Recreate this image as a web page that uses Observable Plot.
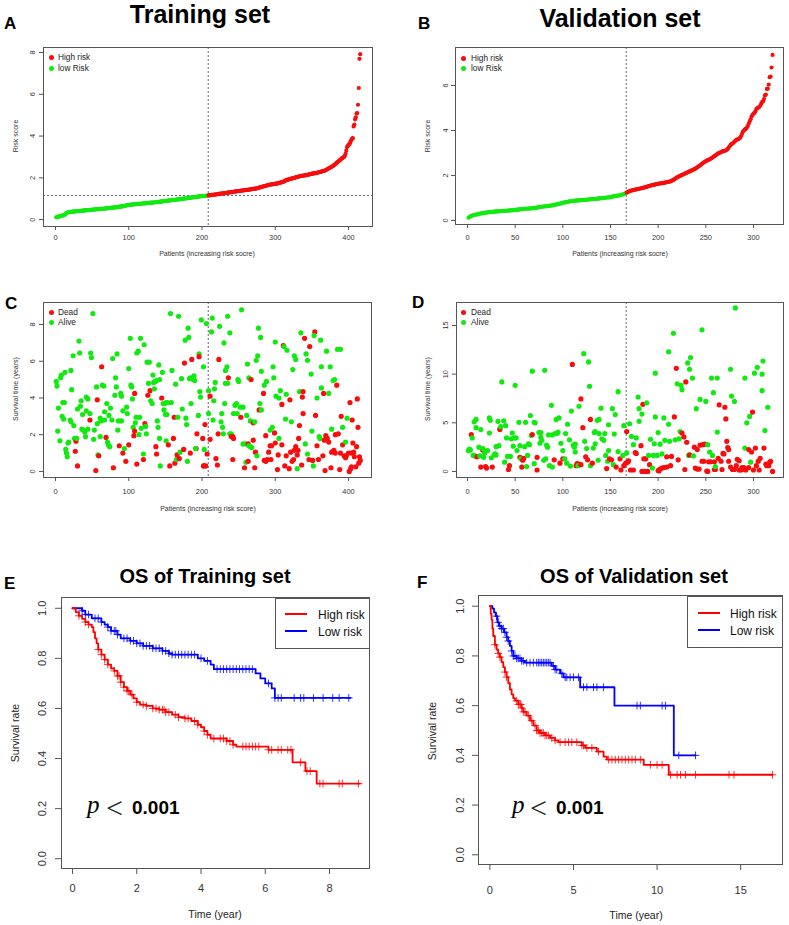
<!DOCTYPE html>
<html><head><meta charset="utf-8">
<script src="https://cdn.jsdelivr.net/npm/d3@7"></script>
<script src="https://cdn.jsdelivr.net/npm/@observablehq/plot@0.6"></script>
<style>
body{margin:0;background:#fff;}
#root{position:relative;width:789px;height:925px;overflow:hidden;background:#fff;}
.abs{position:absolute;white-space:nowrap;line-height:1;}
</style></head><body><div id="root"></div>
<script>
// ---------- DATA ----------
const trainRiskLow = [
0.11,0.12,0.13,0.14,0.15,0.16,0.17,0.18,0.19,0.20,0.21,0.22,0.24,0.28,0.32,0.34,0.35,0.35,0.36,0.36,
0.37,0.37,0.38,0.38,0.38,0.39,0.39,0.40,0.40,0.40,0.41,0.41,0.41,0.42,0.42,0.42,0.43,0.43,0.44,0.44,
0.44,0.45,0.45,0.45,0.46,0.46,0.46,0.47,0.47,0.47,0.48,0.48,0.48,0.49,0.49,0.49,0.50,0.50,0.50,0.51,
0.51,0.51,0.52,0.52,0.52,0.53,0.53,0.53,0.54,0.54,0.54,0.55,0.55,0.55,0.56,0.56,0.57,0.57,0.57,0.58,
0.58,0.59,0.59,0.60,0.60,0.61,0.61,0.62,0.62,0.63,0.63,0.64,0.64,0.65,0.66,0.67,0.68,0.69,0.70,0.70,
0.71,0.71,0.72,0.72,0.72,0.73,0.73,0.73,0.74,0.74,0.74,0.75,0.75,0.75,0.76,0.76,0.76,0.77,0.77,0.77,
0.78,0.78,0.78,0.79,0.79,0.79,0.80,0.80,0.80,0.81,0.81,0.81,0.82,0.82,0.82,0.83,0.83,0.83,0.84,0.84,
0.85,0.85,0.86,0.86,0.87,0.87,0.88,0.88,0.89,0.89,0.90,0.90,0.91,0.91,0.92,0.92,0.92,0.93,0.93,0.94,
0.94,0.95,0.95,0.95,0.96,0.96,0.97,0.97,0.97,0.98,0.98,0.99,0.99,1.00,1.00,1.01,1.01,1.02,1.02,1.03,
1.03,1.04,1.04,1.05,1.05,1.06,1.06,1.07,1.07,1.08,1.08,1.09,1.09,1.10,1.10,1.11,1.11,1.12,1.12,1.12,
1.13,1.13,1.13,1.14,1.14,1.14,1.15,1.15];
const trainRiskHigh = [
1.16,1.16,1.17,1.17,1.18,1.18,1.19,1.19,1.20,1.20,1.21,1.21,1.22,1.22,1.23,1.23,1.24,1.24,1.25,1.25,
1.26,1.26,1.27,1.27,1.28,1.28,1.29,1.29,1.30,1.30,1.31,1.31,1.32,1.32,1.33,1.34,1.34,1.35,1.35,1.36,
1.36,1.37,1.37,1.38,1.38,1.39,1.39,1.40,1.40,1.41,1.41,1.42,1.42,1.43,1.43,1.44,1.44,1.45,1.45,1.46,
1.46,1.47,1.47,1.48,1.48,1.49,1.50,1.51,1.52,1.53,1.54,1.55,1.56,1.57,1.58,1.59,1.60,1.61,1.62,1.63,
1.64,1.65,1.66,1.67,1.68,1.68,1.69,1.69,1.70,1.70,1.71,1.71,1.72,1.72,1.73,1.74,1.75,1.76,1.77,1.78,
1.79,1.80,1.81,1.83,1.85,1.87,1.89,1.90,1.91,1.92,1.93,1.94,1.95,1.96,1.97,1.98,1.99,2.00,2.01,2.02,
2.03,2.04,2.05,2.06,2.07,2.08,2.09,2.10,2.10,2.11,2.11,2.12,2.12,2.13,2.13,2.14,2.15,2.16,2.17,2.18,
2.19,2.20,2.20,2.21,2.21,2.22,2.22,2.23,2.24,2.25,2.26,2.27,2.28,2.29,2.30,2.31,2.32,2.33,2.34,2.35,
2.37,2.39,2.41,2.43,2.45,2.47,2.49,2.51,2.53,2.55,2.57,2.60,2.63,2.66,2.69,2.72,2.75,2.78,2.81,2.84,
2.87,2.90,2.93,2.96,2.98,3.00,3.05,3.15,3.30,3.47,3.52,3.58,
3.60,3.65,3.75,3.82,3.88,3.90,4.46,4.55,4.80,4.90,5.08,5.10,5.50,6.30,7.70,7.92];
const trainRiskCutoff = 1.155;

const validRiskLow = [
0.12,0.15,0.18,0.21,0.22,0.23,0.24,0.25,0.26,0.27,0.28,0.29,0.30,0.31,0.32,0.33,0.34,0.34,0.35,0.35,
0.36,0.36,0.37,0.37,0.37,0.38,0.38,0.39,0.39,0.40,0.40,0.40,0.41,0.41,0.41,0.42,0.42,0.42,0.43,0.43,
0.43,0.44,0.44,0.44,0.45,0.45,0.45,0.46,0.46,0.47,0.47,0.48,0.48,0.49,0.49,0.50,0.50,0.51,0.51,0.52,
0.52,0.52,0.53,0.53,0.53,0.54,0.54,0.54,0.55,0.55,0.56,0.56,0.57,0.58,0.59,0.60,0.61,0.61,0.62,0.62,
0.63,0.63,0.64,0.64,0.65,0.65,0.66,0.66,0.67,0.68,0.69,0.70,0.71,0.72,0.73,0.74,0.75,0.76,0.77,0.78,
0.79,0.80,0.81,0.82,0.83,0.84,0.85,0.85,0.86,0.86,0.87,0.87,0.88,0.88,0.89,0.89,0.89,0.90,0.90,0.90,
0.91,0.91,0.91,0.92,0.92,0.93,0.93,0.94,0.94,0.95,0.95,0.95,0.96,0.96,0.96,0.97,0.97,0.98,0.98,0.99,
0.99,1.00,1.00,1.01,1.01,1.02,1.02,1.03,1.03,1.04,1.05,1.06,1.07,1.08,1.08,1.09,1.10,1.10,1.11,1.12,
1.13,1.14,1.16,1.17,1.19,1.21];
const validRiskHigh = [
1.24,1.26,1.28,1.30,1.32,1.33,1.34,1.35,1.36,1.37,1.38,1.39,1.40,1.41,1.42,1.43,1.44,1.45,1.46,1.47,
1.48,1.49,1.51,1.53,1.54,1.55,1.56,1.57,1.58,1.59,1.60,1.61,1.62,1.63,1.64,1.65,1.65,1.66,1.66,1.67,
1.68,1.69,1.70,1.71,1.72,1.73,1.74,1.76,1.78,1.80,1.83,1.86,1.89,1.92,1.94,1.96,1.98,2.00,2.02,2.04,
2.06,2.08,2.10,2.12,2.14,2.16,2.18,2.20,2.22,2.24,2.26,2.28,2.30,2.33,2.36,2.39,2.42,2.45,2.48,2.52,
2.55,2.58,2.61,2.64,2.66,2.68,2.70,2.72,2.74,2.77,2.80,2.83,2.86,2.89,2.92,2.95,2.98,3.00,3.02,3.04,
3.06,3.08,3.09,3.10,3.11,3.14,3.18,3.24,3.30,3.36,3.40,3.42,3.46,3.50,3.54,3.58,3.60,3.62,3.64,3.68,
3.75,3.85,3.95,4.00,4.05,4.07,4.12,4.20,4.30,4.40,4.50,4.62,4.70,4.74,4.78,4.85,4.95,5.00,5.02,5.04,
5.10,5.18,5.26,5.30,5.40,5.56,5.60,5.85,5.86,6.04,6.37,6.40,6.80,7.36];

// [patient index, survival time (years), dead 1 / alive 0]
const trainSurvival = [
[1,4.9,0],[2,4.65,0],[3,2.2,0],[4,3.45,0],[6,1.67,0],[7,5.1,0],[8,5.25,0],[9,3.0,0],[10,3.75,0],[11,2.85,0],[12,3.75,0],[13,5.4,0],[14,1.2,0],[15,1.0,0],[16,0.8,0],[17,1.55,0],[18,1.6,0],[20,2.8,0],[21,2.7,0],[21,5.5,0],[22,4.45,0],[24,6.3,0],[25,2.5,0],[26,1.8,0],[27,1.1,1],[28,1.65,1],[29,1.8,0],[30,0.3,1],[30,3.4,0],[32,7.1,0],[33,6.45,0],[34,3.55,0],[35,3.85,0],[36,2.3,0],[37,3.1,0],[38,2.25,0],[40,2.15,0],[41,1.9,0],[42,4.05,0],[42,3.3,0],[44,3.95,0],[44,2.3,0],[47,2.8,1],[47,3.15,0],[48,6.45,0],[49,6.2,0],[51,8.6,0],[52,1.75,0],[53,2.25,0],[55,0.05,1],[56,4.6,0],[57,2.6,0],[57,3.9,1],[58,0.9,0],[59,0.85,1],[61,2.9,0],[61,1.9,0],[62,2.75,0],[63,5.7,1],[64,4.7,0],[66,4.65,0],[67,3.25,0],[67,2.8,0],[69,1.85,1],[70,3.7,0],[71,1.6,0],[72,1.45,0],[74,1.35,0],[73,3.05,0],[75,3.45,0],[77,2.8,0],[79,0.2,1],[78,6.15,0],[81,4.15,0],[82,5.1,0],[83,4.6,0],[84,6.4,0],[85,2.25,0],[86,2.75,0],[87,1.4,1],[89,4.25,0],[90,4.1,0],[90,2.75,0],[92,3.3,0],[92,1.0,1],[94,1.25,0],[96,0.55,1],[97,3.5,0],[98,3.15,0],[100,5.6,0],[100,1.45,1],[102,7.25,0],[103,4.7,0],[104,4.6,0],[105,3.95,0],[106,2.4,0],[107,1.95,1],[108,2.2,1],[108,4.25,1],[109,2.65,0],[110,2.95,0],[111,0.4,1],[111,6.45,0],[113,6.55,0],[114,2.0,0],[115,2.95,0],[116,7.25,0],[117,2.35,0],[120,0.65,1],[120,0.95,0],[121,6.9,0],[122,2.6,1],[123,2.45,0],[124,2.05,0],[125,5.95,0],[128,5.95,0],[126,4.15,1],[127,4.8,0],[129,4.4,1],[130,3.85,0],[132,3.7,0],[133,5.25,0],[134,4.85,0],[136,4.9,0],[138,4.95,0],[135,4.5,0],[137,1.35,1],[138,0.95,1],[139,2.75,0],[140,2.4,0],[141,5.8,0],[142,5.0,0],[142,1.8,0],[143,0.3,0],[145,4.0,1],[146,5.4,0],[147,3.7,0],[149,3.7,0],[151,3.75,0],[153,3.75,0],[148,3.35,0],[150,3.1,0],[152,3.1,0],[151,1.67,0],[154,1.45,1],[156,0.3,1],[157,8.6,0],[158,3.75,0],[159,5.5,0],[161,1.8,1],[162,2.95,1],[163,0.45,1],[164,4.75,0],[165,0.65,0],[166,0.9,1],[167,2.95,0],[168,8.45,0],[169,0.7,1],[170,1.05,0],[172,5.05,0],[173,3.4,0],[175,1.2,1],[176,5.9,1],[177,7.15,0],[178,2.9,0],[179,2.55,0],[180,0.55,0],[181,7.8,0],[182,7.3,0],[183,5.05,0],[184,5.1,0],[184,1.0,1],[185,3.7,0],[186,6.1,1],[188,5.0,0],[189,5.2,0],[190,4.95,0],[192,1.25,1],[191,1.25,0],[193,2.05,1],[195,3.05,0],[196,6.4,0],[196,6.25,1],[197,4.35,0],[198,4.05,0],[199,8.25,0],[201,1.8,1],[202,0.3,1],[203,0.3,1],[205,0.3,1],[202,5.7,0],[203,1.2,0],[204,2.55,1],[206,8.05,0],[207,0.95,1],
[209,3.15,0],[209,4.4,0],[211,4.1,1],[211,1.75,1],[213,7.6,0],[214,8.35,0],[215,2.8,0],[216,3.85,0],[217,4.5,0],[218,4.85,0],[219,0.7,1],[221,0.35,1],[222,2.05,1],[223,6.1,1],[224,7.9,0],[226,2.7,0],[227,3.15,0],[228,2.4,0],[229,2.05,0],[230,7.0,0],[231,3.7,0],[232,5.5,0],[234,5.7,0],[232,4.8,0],[235,4.8,0],[236,5.1,1],[235,8.45,0],[238,7.55,0],[238,2.05,0],[240,2.05,0],[240,1.9,1],[242,1.9,1],[243,1.8,1],[242,0.65,1],[243,3.15,0],[245,3.6,0],[247,3.7,0],[248,3.15,0],[249,5.0,0],[250,4.9,0],[253,2.95,1],[252,3.5,0],[254,8.8,0],[256,1.5,0],[259,1.5,0],[256,3.5,0],[258,0.2,1],[260,0.5,0],[261,3.05,0],[262,5.85,0],[263,1.5,1],[263,0.55,1],[264,1.4,0],[266,1.35,0],[268,1.3,0],[264,5.1,0],[267,5.0,1],[266,2.75,0],[270,1.7,1],[270,2.65,1],[272,2.7,0],[272,0.2,1],[273,1.05,1],[274,6.05,0],[275,0.85,0],[276,6.3,0],[277,7.8,0],[278,3.35,1],[279,3.7,0],[281,3.35,0],[280,7.3,0],[281,5.45,0],[284,4.25,1],[285,4.7,0],[285,0.6,1],[287,0.55,1],[289,0.65,1],[287,1.95,1],[288,4.9,0],[291,1.05,1],[293,1.4,1],[295,1.4,1],[293,2.25,0],[294,0.65,1],[296,2.4,0],[297,5.7,0],[298,5.1,0],[299,2.1,1],[300,1.55,1],[300,7.05,0],[301,4.1,0],[303,0.1,1],[304,0.9,1],[305,4.0,0],[307,4.4,0],[305,1.8,0],[309,3.65,1],[309,1.45,1],[311,6.85,1],[312,6.8,0],[313,0.3,1],[314,2.85,0],[315,4.2,0],[316,6.6,0],[315,0.85,1],[319,0.15,1],[320,3.9,1],[321,1.05,1],[322,2.7,0],[323,0.55,1],[325,0.65,1],[326,1.15,1],[324,5.55,0],[326,6.3,0],[328,6.1,0],[328,1.35,1],[330,0.9,1],[331,1.15,1],[330,0.15,0],[332,1.8,1],[333,2.5,1],[333,4.35,0],[335,7.55,0],[336,0.35,1],[337,4.05,1],[338,3.15,1],[338,4.35,1],[340,7.25,1],[341,1.5,0],[342,6.4,0],[344,0.95,0],[344,6.05,0],[346,0.65,1],[347,6.8,1],[349,5.3,0],[350,2.2,0],[351,0.6,1],[352,0.3,0],[354,7.6,1],[353,7.4,0],[355,3.05,1],[357,1.4,1],[357,4.0,0],[359,0.65,1],[360,1.9,0],[361,1.8,0],[362,7.15,0],[363,4.55,0],[363,5.7,0],[365,0.85,1],[366,4.25,1],[368,0.05,1],[367,1.7,1],[369,1.95,1],[370,6.55,0],[371,1.8,1],[373,1.6,1],[373,4.25,0],[375,5.7,0],[376,0.2,1],[377,2.3,0],[377,1.05,1],[379,4.95,0],[381,5.0,0],[380,1.15,1],[382,1.0,1],[382,2.0,1],[385,6.65,0],[384,4.7,1],[386,2.05,1],[389,6.65,0],[389,1.0,1],[388,0.1,1],[390,3.0,1],[392,2.4,0],[392,1.45,1],[394,0.85,1],[396,0.75,1],[397,0.85,1],[396,1.6,0],[398,2.9,0],[400,1.0,1],[401,0.0,1],[402,3.75,1],[403,0.15,1],[404,0.25,1],[404,1.0,1],[405,2.8,1],[406,1.55,1],[407,1.05,1],[408,0.8,1],[410,0.25,1],[411,1.35,1],[412,3.95,1],[413,2.4,1],[414,0.45,1],[415,0.8,1],[416,0.6,1]];

const validSurvival = [
[1,2.15,0],[2,2.3,0],[3,2.2,0],[4,3.8,1],[5,3.45,0],[6,1.65,0],[7,5.1,0],[8,1.6,0],[9,4.5,0],[9,5.35,0],[9,1.55,0],[10,1.5,1],[12,2.5,0],[13,1.6,0],[14,4.3,0],[14,0.45,1],[16,2.2,1],[16,2.35,0],[18,1.9,0],[19,2.1,0],[17,1.45,0],[19,0.5,1],[20,0.35,1],[21,2.15,0],[23,3.95,0],[23,5.5,0],[24,5.25,0],[25,1.4,0],[26,0.45,1],[28,1.7,0],[29,1.8,0],[30,1.7,0],[30,2.55,0],[32,5.15,0],[33,2.65,0],[34,4.4,0],[34,4.3,1],[35,4.6,0],[36,9.2,0],[38,5.2,0],[39,0.95,0],[40,4.7,0],[41,3.45,0],[42,1.55,0],[43,0.2,1],[44,0.6,1],[45,1.55,0],[47,3.95,0],[46,3.35,0],[48,2.6,0],[49,3.45,0],[51,3.45,0],[50,8.85,0],[52,2.15,0],[54,5.05,0],[55,1.45,1],[55,2.65,0],[56,1.3,0],[57,0.45,1],[58,1.15,1],[59,1.35,1],[60,2.55,0],[61,5.05,0],[62,0.5,0],[63,1.65,0],[64,2.85,0],[65,2.75,0],[66,5.75,0],[67,3.7,0],[68,3.8,1],[68,10.3,0],[70,5.05,0],[71,5.0,0],[70,0.8,0],[73,0.15,1],[73,1.45,1],[75,4.0,0],[77,4.0,0],[76,2.9,0],[77,3.5,0],[78,3.2,0],[80,1.15,0],[81,10.4,0],[82,1.3,0],[83,2.7,0],[84,2.5,0],[85,3.75,0],[86,0.6,0],[88,6.8,0],[89,0.45,0],[89,3.75,0],[91,1.2,1],[92,3.9,0],[94,3.9,0],[93,5.35,0],[95,4.05,0],[96,5.5,0],[97,0.85,1],[98,2.9,0],[100,1.3,1],[100,2.15,0],[102,1.3,0],[103,3.9,0],[104,0.85,0],[105,4.85,0],[107,3.25,0],[108,0.55,0],[109,6.2,0],[110,11.0,1],[111,2.7,0],[113,2.8,0],[112,2.5,0],[113,2.0,0],[114,0.6,1],[115,0.8,1],[117,0.75,1],[116,0.6,0],[117,6.7,0],[119,7.45,1],[119,0.7,1],[121,4.5,1],[122,12.1,0],[123,3.1,0],[124,1.5,1],[125,2.35,0],[126,1.2,1],[127,11.25,0],[128,8.75,0],[129,0.6,0],[129,5.35,1],[131,0.85,1],[132,2.4,0],[133,4.0,0],[134,4.1,0],[134,2.85,0],[136,5.25,0],[138,5.35,0],[137,1.15,0],[138,3.9,0],[140,6.5,0],[141,3.35,0],[143,3.2,0],[144,3.9,0],[145,1.65,0],[146,0.3,1],[147,1.05,0],[148,4.8,0],[148,2.15,0],[149,1.3,1],[151,1.2,1],[152,6.45,0],[153,0.7,0],[154,3.85,0],[155,5.85,0],[156,0.45,1],[158,8.2,0],[158,2.05,0],[160,1.3,1],[161,0.15,1],[163,1.65,0],[164,4.7,0],[164,0.6,1],[166,0.85,1],
[167,1.9,0],[167,4.1,1],[168,0.95,1],[169,1.1,1],[170,4.9,0],[171,0.15,1],[172,3.6,0],[174,2.75,0],[174,0.15,1],[176,1.95,1],[177,1.85,1],[177,3.45,0],[179,7.65,0],[180,5.15,0],[180,6.45,0],[182,2.65,1],[183,5.9,0],[184,6.9,1],[185,1.3,1],[187,1.3,1],[188,7.05,0],[183,0.0,1],[186,0.0,1],[189,0.0,1],[190,1.65,0],[191,0.7,1],[192,3.3,0],[194,0.35,0],[195,1.65,0],[196,2.85,0],[197,5.6,0],[197,10.1,0],[199,1.65,0],[200,0.1,1],[201,0.05,1],[202,0.25,1],[200,4.0,0],[202,2.8,0],[204,1.8,0],[204,0.35,1],[206,0.4,1],[206,5.5,0],[207,3.2,0],[209,0.45,1],[209,1.5,1],[211,12.3,0],[211,4.85,0],[212,3.1,0],[213,0.6,1],[214,1.55,1],[216,14.2,0],[217,5.6,1],[218,3.25,0],[219,10.6,1],[220,9.0,0],[221,1.2,1],[222,3.35,0],[223,4.1,0],[224,8.85,0],[225,8.4,0],[225,3.95,1],[227,3.55,1],[228,0.2,1],[229,9.2,1],[230,3.0,1],[231,11.15,0],[232,1.65,0],[233,1.7,1],[233,10.5,0],[234,11.7,0],[236,9.6,0],[237,1.6,0],[238,2.5,1],[239,0.35,1],[240,6.45,0],[241,0.25,1],[243,0.25,1],[241,2.25,1],[244,7.4,0],[244,2.7,1],[246,14.55,0],[246,1.05,1],[248,1.05,1],[247,2.75,1],[249,2.8,1],[250,7.2,0],[251,0.05,1],[252,0.0,1],[252,2.75,0],[253,1.0,1],[255,1.0,1],[254,2.0,0],[256,9.6,0],[257,1.65,0],[258,8.1,0],[259,0.2,1],[260,0.2,1],[259,1.0,1],[260,0.5,0],[262,4.05,0],[262,9.6,0],[263,1.35,1],[264,6.85,1],[266,1.05,1],[267,0.2,1],[268,1.85,1],[269,1.8,1],[270,6.6,1],[271,5.4,1],[272,3.1,1],[273,2.45,1],[274,2.25,1],[274,1.05,1],[276,0.45,1],[276,10.5,0],[277,7.75,0],[278,0.2,1],[280,0.2,1],[280,7.2,0],[281,16.8,0],[282,0.6,1],[283,1.25,1],[285,1.1,1],[285,0.15,1],[287,0.15,1],[288,0.4,1],[289,0.25,1],[290,0.4,1],[291,9.6,0],[291,2.4,0],[292,0.15,1],[293,5.0,0],[295,0.4,1],[296,5.65,0],[295,2.25,1],[298,2.0,1],[297,0.95,0],[299,6.1,1],[300,0.15,1],[301,10.1,0],[302,2.4,1],[303,0.6,1],[304,10.7,0],[305,1.05,1],[306,0.15,1],[307,1.35,1],[309,8.3,0],[309,10.0,0],[310,11.35,0],[311,2.4,1],[312,4.2,0],[313,0.75,1],[314,0.6,1],[315,6.6,0],[316,0.6,1],[317,0.95,1],[318,1.05,1],[320,0.0,1]];

// Kaplan–Meier steps: [time (year), survival rate after that time]
const kmTrainHigh = [[0,1],[0.1,0.985],[0.2,0.97],[0.3,0.958],[0.4,0.945],[0.5,0.935],[0.6,0.925],[0.65,0.905],[0.7,0.88],[0.75,0.86],[0.8,0.835],[0.9,0.815],[1.0,0.795],[1.1,0.775],[1.2,0.76],[1.3,0.75],[1.4,0.73],[1.5,0.705],[1.6,0.685],[1.7,0.67],[1.8,0.655],[1.9,0.64],[2.0,0.625],[2.1,0.615],[2.3,0.61],[2.5,0.6],[2.7,0.595],[2.9,0.585],[3.1,0.575],[3.3,0.565],[3.5,0.56],[3.7,0.55],[3.9,0.535],[4.0,0.525],[4.1,0.51],[4.2,0.495],[4.3,0.48],[4.8,0.47],[5.0,0.455],[5.1,0.448],[6.1,0.435],[6.85,0.385],[7.25,0.35],[7.6,0.3],[8.95,0.3]];
const kmTrainLow = [[0,1],[0.3,0.99],[0.4,0.975],[0.6,0.96],[0.9,0.945],[1.0,0.935],[1.1,0.925],[1.2,0.91],[1.4,0.895],[1.5,0.88],[1.8,0.87],[2.0,0.86],[2.2,0.85],[2.5,0.84],[2.8,0.83],[3.0,0.82],[3.1,0.815],[3.9,0.80],[4.1,0.79],[4.3,0.775],[4.4,0.757],[5.7,0.74],[5.85,0.72],[6.0,0.70],[6.2,0.68],[6.3,0.642],[8.65,0.642]];
const censorTrainHigh = [0.2,0.4,0.5,0.8,0.9,1.0,1.1,1.3,1.4,1.45,1.5,1.6,1.7,1.75,1.85,2.0,2.2,2.3,2.5,2.6,2.7,2.8,2.85,2.9,3.0,3.2,3.3,3.5,3.6,3.8,3.9,4.1,4.2,4.4,4.6,4.7,4.8,4.9,5.0,5.3,5.4,5.5,5.6,5.7,5.8,6.1,6.2,6.4,6.5,6.7,6.8,7.1,7.3,7.4,7.7,7.8,8.3,8.4,8.9];
const censorTrainLow = [0.3,0.4,0.5,0.7,0.8,0.9,1.1,1.2,1.3,1.35,1.4,1.6,1.7,1.8,1.9,2.0,2.1,2.2,2.3,2.4,2.5,2.6,2.7,2.8,2.9,3.0,3.1,3.2,3.3,3.4,3.5,3.6,3.7,3.8,4.0,4.2,4.5,4.6,4.7,4.8,4.9,5.0,5.1,5.2,5.3,5.4,5.5,5.6,6.1,6.3,6.4,6.5,6.9,7.1,7.2,7.5,7.8,8.1,8.3,8.6];
const kmValidHigh = [[0,1],[0.05,0.97],[0.1,0.945],[0.15,0.91],[0.2,0.88],[0.3,0.845],[0.4,0.825],[0.5,0.81],[0.6,0.795],[0.7,0.775],[0.8,0.755],[0.9,0.735],[1.0,0.715],[1.1,0.69],[1.2,0.665],[1.3,0.645],[1.4,0.63],[1.5,0.62],[1.7,0.605],[1.9,0.59],[2.0,0.575],[2.2,0.56],[2.4,0.54],[2.6,0.52],[2.8,0.50],[3.0,0.49],[3.3,0.48],[3.6,0.47],[3.9,0.46],[4.1,0.453],[5.5,0.44],[5.7,0.43],[6.4,0.415],[6.8,0.395],[7.0,0.383],[9.2,0.362],[10.7,0.322],[16.9,0.322]];
const kmValidLow = [[0,1],[0.15,0.99],[0.25,0.975],[0.35,0.96],[0.45,0.935],[0.55,0.92],[0.7,0.91],[0.85,0.895],[1.0,0.875],[1.1,0.86],[1.2,0.84],[1.3,0.82],[1.4,0.80],[1.6,0.79],[1.9,0.78],[2.1,0.773],[3.7,0.76],[3.9,0.745],[4.2,0.73],[4.4,0.714],[5.4,0.674],[7.45,0.60],[11.0,0.40],[12.3,0.40]];
const censorValidHigh = [0.3,0.5,0.6,0.9,1.0,1.6,1.7,1.8,1.85,1.9,2.0,2.1,2.3,2.5,2.7,2.8,2.9,3.0,3.1,3.2,3.3,3.4,3.5,3.7,3.9,4.2,4.5,4.7,4.9,5.2,5.5,5.6,5.8,6.1,6.5,7.1,7.3,7.5,7.7,7.9,8.1,8.3,8.5,8.7,9.0,9.6,10.0,10.3,10.8,11.2,11.4,11.7,12.3,14.3,14.6,16.9];
const censorValidLow = [0.4,0.5,0.6,0.7,0.8,0.9,1.0,1.1,1.3,1.4,1.5,1.6,1.7,1.8,1.9,2.0,2.2,2.4,2.6,2.8,2.9,3.0,3.1,3.2,3.3,3.4,3.5,3.6,3.8,3.9,4.0,4.3,4.5,4.6,4.8,5.0,5.3,5.6,5.8,6.2,6.4,6.8,8.8,9.0,10.3,10.5,11.3,12.3];

// tick labels
const trainPatientTicks = [0,100,200,300,400];
const validPatientTicks = [0,50,100,150,200,250,300];
const trainRiskTicks = [0,2,4,6,8];
const validRiskTicks = [0,2,4,6];
const trainTimeTicks = [0,2,4,6,8];
const validTimeTicks = [0,5,10,15];
const kmTrainTimeTicks = [0,2,4,6,8];
const kmValidTimeTicks = [0,5,10,15];
const kmRateTicks = [0,0.2,0.4,0.6,0.8,1.0];

// ---------- DRAWING ----------
const RED = "#f70d0d", GREEN = "#11ea11", KRED = "#ff0000", KBLUE = "#0000ff";
const SANS = "'Liberation Sans', Arial, Helvetica, sans-serif";
const SERIF = "'Liberation Serif', 'Times New Roman', serif";
const root = document.getElementById("root");

function survAt(steps, t) {
  let s = steps[0][1];
  for (const [tt, ss] of steps) { if (tt <= t) s = ss; else break; }
  return s;
}

function panel(o) {
  const chart = Plot.plot({
    width: o.width, height: o.height,
    marginLeft: o.mL, marginRight: o.mR, marginTop: o.mT, marginBottom: o.mB,
    x: {domain: o.xDomain}, y: {domain: o.yDomain},
    color: {type: "identity"},
    style: {fontFamily: SANS, fontSize: o.font + "px", color: "#333", background: "transparent", overflow: "visible"},
    marks: [
      ...o.marks,
      Plot.frame({stroke: "#555", strokeWidth: 1}),
      Plot.axisX(o.xTicks, {tickSize: o.tsx, tickPadding: o.tpx, stroke: "#555", label: null}),
      Plot.axisY(o.yTicks, {tickSize: o.tsy, tickPadding: o.tpy, tickRotate: -90, tickFormat: o.yFormat, stroke: "#555", label: null})
    ]
  });
  chart.style.position = "absolute";
  chart.style.left = o.left + "px";
  chart.style.top = o.top + "px";
  chart.style.maxWidth = "none";
  root.appendChild(chart);
}

function txt(s, x, y, op = {}) {
  const {size = 10, weight = "normal", anchor = "start", rotate = 0, color = "#000", family = SANS, style = "normal"} = op;
  const d = document.createElement("div");
  d.className = "abs";
  d.textContent = s;
  Object.assign(d.style, {fontSize: size + "px", fontWeight: weight, color, fontFamily: family, fontStyle: style});
  d.style.left = x + "px";
  if (rotate) {
    d.style.top = y + "px";
    d.style.transform = `translate(-50%,-50%) rotate(${rotate}deg)`;
  } else {
    d.style.top = (y - 0.85 * size) + "px";
    if (anchor === "middle") d.style.transform = "translateX(-50%)";
  }
  root.appendChild(d);
}
function dotKey(x, y, r, color) {
  const d = document.createElement("div");
  Object.assign(d.style, {position: "absolute", left: (x - r) + "px", top: (y - r) + "px", width: 2 * r + "px", height: 2 * r + "px", borderRadius: "50%", background: color});
  root.appendChild(d);
}
function lineKey(x1, x2, y, color) {
  const d = document.createElement("div");
  Object.assign(d.style, {position: "absolute", left: x1 + "px", top: (y - 1) + "px", width: (x2 - x1) + "px", height: "2px", background: color});
  root.appendChild(d);
}
function box(x1, y1, x2, y2) {
  const d = document.createElement("div");
  Object.assign(d.style, {position: "absolute", left: x1 + "px", top: y1 + "px", width: (x2 - x1 - 1) + "px", height: (y2 - y1 - 1) + "px", border: "1px solid #555", background: "#fff"});
  root.appendChild(d);
}

const idxLow = (d, i) => i + 1;
const dash = {stroke: "#666", strokeDasharray: "2,2", strokeWidth: 1};

// Panel A
panel({left: 0, top: 40, width: 395, height: 230, mL: 43, mR: 23, mT: 7, mB: 44,
  xDomain: [-16.4, 432.8], yDomain: [-0.33, 8.24], xTicks: trainPatientTicks, yTicks: trainRiskTicks,
  tsx: 4, tpx: 4, tsy: 4, tpy: 5, font: 7.4,
  marks: [
    Plot.ruleX([trainRiskLow.length + 0.5], dash),
    Plot.ruleY([trainRiskCutoff], dash),
    Plot.dot(trainRiskLow, {x: idxLow, y: d => d, r: 2.1, fill: GREEN}),
    Plot.dot(trainRiskHigh, {x: (d, i) => trainRiskLow.length + i + 1, y: d => d, r: 2.1, fill: RED})
  ]});
// Panel B
panel({left: 395, top: 40, width: 394, height: 230, mL: 60, mR: 6, mT: 7, mB: 46,
  xDomain: [-12.6, 331.5], yDomain: [-0.18, 7.69], xTicks: validPatientTicks, yTicks: validRiskTicks,
  tsx: 4, tpx: 6, tsy: 4, tpy: 4, font: 7.4,
  marks: [
    Plot.ruleX([validRiskLow.length + 0.5], dash),
    Plot.dot(validRiskLow, {x: idxLow, y: d => d, r: 2.1, fill: GREEN}),
    Plot.dot(validRiskHigh, {x: (d, i) => validRiskLow.length + i + 1, y: d => d, r: 2.1, fill: RED})
  ]});
// Panel C
panel({left: 0, top: 290, width: 395, height: 240, mL: 43, mR: 24, mT: 12, mB: 53,
  xDomain: [-16.4, 431.4], yDomain: [-0.33, 9.2], xTicks: trainPatientTicks, yTicks: trainTimeTicks,
  tsx: 4, tpx: 7, tsy: 4, tpy: 5, font: 7.4,
  marks: [
    Plot.ruleX([trainRiskLow.length + 0.5], dash),
    Plot.dot(trainSurvival, {x: d => d[0], y: d => d[1], r: 2.6, fill: d => d[2] ? RED : GREEN})
  ]});
// Panel D
panel({left: 395, top: 290, width: 394, height: 240, mL: 61, mR: 6, mT: 12, mB: 53,
  xDomain: [-11.5, 331.5], yDomain: [-0.62, 17.36], xTicks: validPatientTicks, yTicks: validTimeTicks,
  tsx: 4, tpx: 7, tsy: 4, tpy: 5, font: 7.4,
  marks: [
    Plot.ruleX([validRiskLow.length + 0.5], dash),
    Plot.dot(validSurvival, {x: d => d[0], y: d => d[1], r: 2.6, fill: d => d[2] ? RED : GREEN})
  ]});
// Panel E
const f1 = d3.format(".1f");
panel({left: 0, top: 590, width: 395, height: 335, mL: 61, mR: 26, mT: 7, mB: 57,
  xDomain: [-0.342, 9.245], yDomain: [-0.039, 1.043], xTicks: kmTrainTimeTicks, yTicks: kmRateTicks, yFormat: f1,
  tsx: 6, tpx: 10, tsy: 6, tpy: 10, font: 11,
  marks: [
    Plot.line(kmTrainLow, {x: d => d[0], y: d => d[1], curve: "step-after", stroke: KBLUE, strokeWidth: 1.8}),
    Plot.line(kmTrainHigh, {x: d => d[0], y: d => d[1], curve: "step-after", stroke: KRED, strokeWidth: 1.8}),
    Plot.dot(censorTrainLow, {x: d => d, y: d => survAt(kmTrainLow, d), symbol: "plus", r: 2.6, stroke: KBLUE, strokeWidth: 1, strokeOpacity: 0.8}),
    Plot.dot(censorTrainHigh, {x: d => d, y: d => survAt(kmTrainHigh, d), symbol: "plus", r: 2.6, stroke: KRED, strokeWidth: 1, strokeOpacity: 0.8})
  ]});
// Panel F
panel({left: 395, top: 590, width: 394, height: 335, mL: 83, mR: 7, mT: 5, mB: 61,
  xDomain: [-0.68, 17.5], yDomain: [-0.039, 1.043], xTicks: kmValidTimeTicks, yTicks: kmRateTicks, yFormat: f1,
  tsx: 6, tpx: 16, tsy: 6, tpy: 9, font: 11,
  marks: [
    Plot.line(kmValidLow, {x: d => d[0], y: d => d[1], curve: "step-after", stroke: KBLUE, strokeWidth: 1.8}),
    Plot.line(kmValidHigh, {x: d => d[0], y: d => d[1], curve: "step-after", stroke: KRED, strokeWidth: 1.8}),
    Plot.dot(censorValidLow, {x: d => d, y: d => survAt(kmValidLow, d), symbol: "plus", r: 2.6, stroke: KBLUE, strokeWidth: 1, strokeOpacity: 0.8}),
    Plot.dot(censorValidHigh, {x: d => d, y: d => survAt(kmValidHigh, d), symbol: "plus", r: 2.6, stroke: KRED, strokeWidth: 1, strokeOpacity: 0.8})
  ]});

// ---------- TEXT ----------
// panel letters
txt("A", 4, 29, {size: 17, weight: "bold"});
txt("B", 418, 29, {size: 17, weight: "bold"});
txt("C", 5, 309, {size: 17, weight: "bold"});
txt("D", 412, 308, {size: 17, weight: "bold"});
txt("E", 4, 589, {size: 17, weight: "bold"});
txt("F", 417, 588, {size: 17, weight: "bold"});
// titles
txt("Training set", 200, 23, {size: 25, weight: "bold", anchor: "middle"});
txt("Validation set", 620, 27, {size: 25, weight: "bold", anchor: "middle"});
txt("OS of Training set", 205, 583, {size: 20, weight: "bold", anchor: "middle"});
txt("OS of Validation set", 634, 583, {size: 20, weight: "bold", anchor: "middle"});
// axis labels
txt("Patients (increasing risk socre)", 207, 256, {size: 7, anchor: "middle", color: "#333"});
txt("Patients (increasing risk socre)", 620, 256, {size: 7, anchor: "middle", color: "#333"});
txt("Risk score", 15, 136, {size: 7, rotate: -90, color: "#333"});
txt("Risk score", 427, 136, {size: 7, rotate: -90, color: "#333"});
txt("Patients (increasing risk score)", 208, 511, {size: 7, anchor: "middle", color: "#333"});
txt("Patients (increasing risk score)", 620, 511, {size: 7, anchor: "middle", color: "#333"});
txt("Survival time (years)", 15, 389, {size: 7, rotate: -90, color: "#333"});
txt("Survival time (years)", 427, 389, {size: 7, rotate: -90, color: "#333"});
txt("Time (year)", 215, 918, {size: 10.5, anchor: "middle", color: "#222"});
txt("Time (year)", 636, 919, {size: 10.5, anchor: "middle", color: "#222"});
txt("Survival rate", 15, 733, {size: 10.5, rotate: -90, color: "#222"});
txt("Survival rate", 432, 731, {size: 10.5, rotate: -90, color: "#222"});
// legends A-D
[[51, 58, 57, 68], [463, 471, 58, 68]].forEach(([dx, tx, y1, y2]) => {
  dotKey(dx, y1, 2.5, RED); txt("High risk", tx, y1 + 3, {size: 8.3, color: "#222"});
  dotKey(dx, y2, 2.5, GREEN); txt("low Risk", tx, y2 + 3, {size: 8.3, color: "#222"});
});
[[51, 58], [463, 471]].forEach(([dx, tx]) => {
  dotKey(dx, 312, 2.5, RED); txt("Dead", tx, 315, {size: 8.3, color: "#222"});
  dotKey(dx, 322, 2.5, GREEN); txt("Alive", tx, 325, {size: 8.3, color: "#222"});
});
// legends E-F
box(275, 598, 369, 648);
lineKey(285, 307, 614, KRED); txt("High risk", 318, 619, {size: 12, color: "#111"});
lineKey(285, 307, 631, KBLUE); txt("Low risk", 318, 636, {size: 12, color: "#111"});
box(687, 596, 782, 647);
lineKey(698, 720, 613, KRED); txt("High risk", 730, 618, {size: 12, color: "#111"});
lineKey(698, 720, 630, KBLUE); txt("Low risk", 730, 635, {size: 12, color: "#111"});
// p-values
[[87, 106, 132], [512, 530, 556]].forEach(([px, lx, nx]) => {
  txt("p", px, 813, {size: 25, style: "italic", family: SERIF});
  txt("<", lx, 818, {size: 30, family: SERIF, color: "#222"});
  txt("0.001", nx, 814, {size: 19, weight: "bold"});
});
</script></body></html>
